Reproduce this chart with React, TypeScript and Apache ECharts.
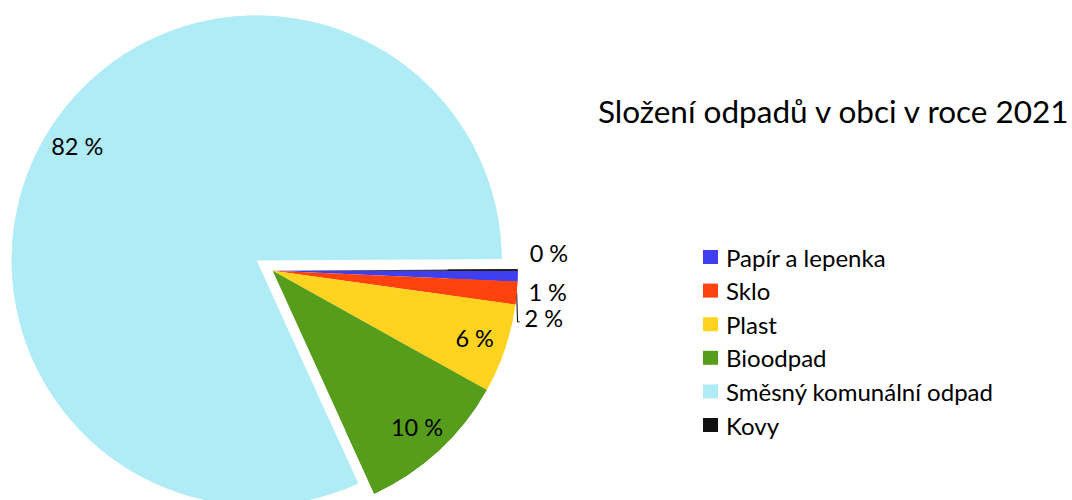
import React, { useEffect, useRef } from "react";
import * as echarts from "echarts";

const categories = [
  "Papír a lepenka",
  "Sklo",
  "Plast",
  "Bioodpad",
  "Směsný komunální odpad",
  "Kovy",
];
const shares = [0.7, 1.5, 5.9, 10.1, 81.7, 0.1];
const colors = ["#3f3ff0", "#ff420e", "#ffd320", "#579d1c", "#b0ecf5", "#111111"];
const explodedIndex = 4;
const insideLabelIndices = [2, 3, 4];
const leaderLineIndices = [1];
const titleText = "Složení odpadů v obci v roce 2021";

const FONT = "Lato";

export default function App() {
  const ref = useRef<HTMLDivElement>(null);
  useEffect(() => {
    if (!ref.current) return;
    const chart = echarts.init(ref.current, null, { renderer: "svg" });
    const total = shares.reduce((a, b) => a + b, 0);
    const fmt = (p: any) => Math.round((p.value / total) * 100) + " %";
    const center = [272.7, 270.7];
    const baseData = categories.map((name, i) => ({
      name,
      value: shares[i],
      selected: i === explodedIndex,
      itemStyle: { color: colors[i] },
    }));
    const labelData = categories.map((name, i) => {
      const inside = insideLabelIndices.includes(i);
      return {
        name,
        value: shares[i],
        selected: i === explodedIndex,
        itemStyle: { color: colors[i] },
        label: {
          show: true,
          position: inside ? "inside" : "outside",
        },
        labelLine: {
          show: !inside && leaderLineIndices.includes(i),
          length: 10,
          length2: 2,
          lineStyle: { color: "#000", width: 1 },
        },
      };
    });
    chart.setOption({
      animation: false,
      backgroundColor: "#ffffff",
      title: {
        text: titleText,
        left: 593,
        top: 90,
        textStyle: { fontSize: 31.5, fontFamily: FONT, fontWeight: "normal", color: "#000" },
      },
      legend: {
        data: categories,
        orient: "vertical",
        left: 698,
        top: 240,
        itemWidth: 15,
        itemHeight: 14,
        itemGap: 9.6,
        icon: "rect",
        selectedMode: false,
        textStyle: {
          fontSize: 24,
          lineHeight: 24,
          fontFamily: FONT,
          color: "#000",
          padding: [0, 0, 0, 3],
        },
      },
      series: [
        {
          type: "pie",
          center,
          radius: [0, 245],
          startAngle: 0,
          clockwise: true,
          selectedMode: "single",
          selectedOffset: 19,
          silent: true,
          label: { show: false },
          labelLine: { show: false },
          data: baseData,
        },
        {
          type: "pie",
          center,
          radius: [175, 245],
          startAngle: 0,
          clockwise: true,
          selectedMode: "single",
          selectedOffset: 19,
          silent: true,
          label: {
            show: true,
            formatter: fmt,
            fontSize: 23.5,
            lineHeight: 24,
            fontFamily: FONT,
            color: "#000",
          },
          labelLayout: (p: any) =>
            p.dataIndex === 5 ? { dy: -17 } : p.dataIndex === 0 || p.dataIndex === 1 ? { dy: -4 } : {},
          data: labelData,
        },
      ],
    });
    return () => chart.dispose();
  }, []);
  return (
    <div
      ref={ref}
      style={{ position: "fixed", left: 0, top: 0, width: 1072, height: 500 }}
    />
  );
}
